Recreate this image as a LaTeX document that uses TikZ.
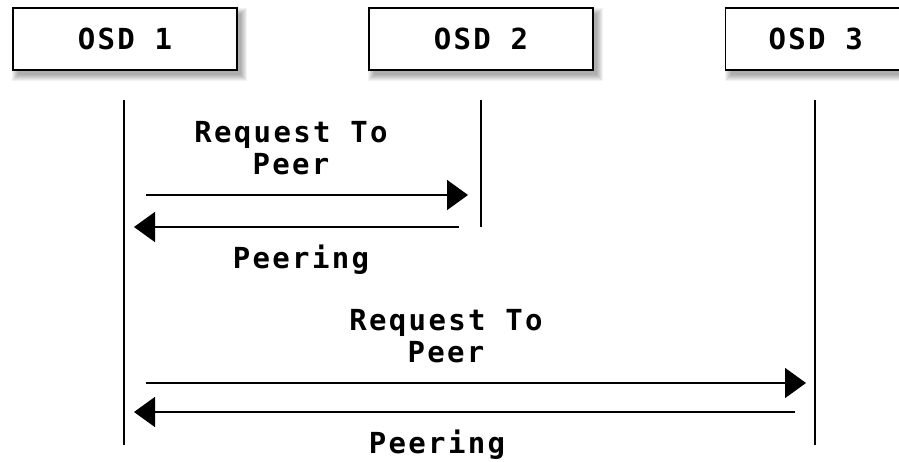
\documentclass[tikz,border=0pt]{standalone}
\usepackage{fontspec}
\setmonofont[LetterSpace=8]{DejaVu Sans Mono}
\usetikzlibrary{arrows.meta,backgrounds}
\begin{document}
\begin{tikzpicture}[x=1pt,y=-1pt,
  osdbox/.style={draw=black, line width=1.4pt, fill=white, minimum width=224pt, minimum height=62pt, inner sep=0pt, font=\ttfamily\bfseries\fontsize{29}{29}\selectfont},
  lifeline/.style={line width=1.4pt},
  msg/.style={line width=1.5pt, -{Triangle[length=21pt,width=30pt]}},
  msglabel/.style={inner sep=0pt, anchor=base, align=center, font=\ttfamily\bfseries\fontsize{29}{32}\selectfont}]
\clip (0,0) rectangle (899,461);
\useasboundingbox (0,0) rectangle (899,461);
\begin{scope}[on background layer]
  \fill[white] (0,0) rectangle (899,461);
\end{scope}

\node[osdbox] (o1) at (125,39) {OSD 1};
\node[osdbox] (o2) at (481,39) {OSD 2};
\node[osdbox, anchor=west] (o3) at (725,39) {\hspace*{-44pt}OSD 3};

\begin{scope}[on background layer]
  \foreach \b in {o1,o2,o3}{
    \foreach \s in {0,1,...,6}{
      \fill[black, opacity=0.05]
        ([shift={(\s,1+\s)}]\b.north west) rectangle ([shift={(9-\s,10-\s)}]\b.south east);
    }
  }
\end{scope}

% lifelines
\coordinate (l1t) at (124,100);
\coordinate (l1b) at (124,445);
\coordinate (l2t) at (481,100);
\coordinate (l2b) at (481,227);
\coordinate (l3t) at (815,100);
\coordinate (l3b) at (815,445);
\draw[lifeline] (l1t) -- (l1b);
\draw[lifeline] (l2t) -- (l2b);
\draw[lifeline] (l3t) -- (l3b);

% messages
\coordinate (a1s) at (146,195);
\coordinate (a1e) at (468,195);
\coordinate (a2s) at (459,227);
\coordinate (a2e) at (134,227);
\coordinate (a3s) at (146,383);
\coordinate (a3e) at (806,383);
\coordinate (a4s) at (795,412);
\coordinate (a4e) at (134,412);
\draw[msg] (a1s) -- (a1e);
\draw[msg] (a2s) -- (a2e);
\draw[msg] (a3s) -- (a3e);
\draw[msg] (a4s) -- (a4e);

\node[msglabel] (t1) at (291,174) {Request To\\Peer};
\node[msglabel] (p1) at (301,268) {Peering};
\node[msglabel] (t2) at (446,362) {Request To\\Peer};
\node[msglabel] (p2) at (437,453) {Peering};
\end{tikzpicture}
\end{document}
